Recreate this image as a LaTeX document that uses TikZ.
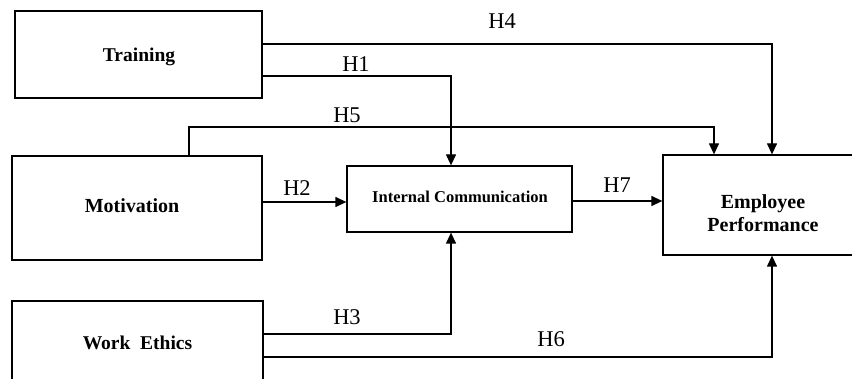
\documentclass[tikz,border=0pt]{standalone}
\usepackage{fontspec}
\setmainfont{Liberation Serif}
\usetikzlibrary{arrows.meta}
\begin{document}
\begin{tikzpicture}[x=1pt,y=-1pt,
  box/.style={draw=black,line width=1.3pt,inner sep=0pt,font=\bfseries\fontsize{19.5}{23}\selectfont,align=center},
  lbl/.style={inner sep=0pt,font=\bfseries\fontsize{20}{23}\selectfont,align=center},
  hyp/.style={inner sep=0pt,font=\fontsize{22.5}{26}\selectfont},
  arr/.style={line width=1.3pt,-{Triangle[length=11pt,width=10pt]}}]
\useasboundingbox (0,0) rectangle (852,379);
\clip (0,0) rectangle (852,379);
\node[box,minimum width=247pt,minimum height=87pt] (tr) at (138.5,54.5) {};
\node[lbl,font=\bfseries\fontsize{19.5}{23}\selectfont] (trtext) at (139,57) {Training};
\node[box,minimum width=250pt,minimum height=104pt] (mo) at (137,208) {};
\node[lbl] (motext) at (132,206) {Motivation};
\node[box,minimum width=251pt,minimum height=82pt] (we) at (137.5,342) {};
\node[lbl,font=\bfseries\fontsize{19.5}{23}\selectfont] (wetext) at (137.5,343) {Work\ \ Ethics};
\node[box,minimum width=225pt,minimum height=66pt] (ic) at (459.5,199) {};
\node[lbl,font=\bfseries\fontsize{16.5}{20}\selectfont] (ictext) at (460,197) {Internal Communication};
\node[box,minimum width=200pt,minimum height=100pt] (ep) at (763,205) {};
\node[lbl] (eptext) at (763,213) {Employee\\Performance};
% connectors
\draw[arr] (tr.east |- 0,44) -| (772,0 |- ep.north);
\draw[arr] (tr.east |- 0,76) -| (451,0 |- ic.north);
\draw[arr] (189,0 |- mo.north) -- (189,127) -| (714,0 |- ep.north);
\draw[arr] (mo.east |- 0,202) -- (ic.west |- 0,202);
\draw[arr] (ic.east |- 0,201) -- (ep.west |- 0,201);
\draw[arr] (we.east |- 0,334) -| (451,0 |- ic.south);
\draw[arr] (we.east |- 0,357) -| (772,0 |- ep.south);
% labels
\node[hyp] (h4) at (502,21) {H4};
\node[hyp] (h1) at (356,64) {H1};
\node[hyp] (h5) at (347,115) {H5};
\node[hyp] (h2) at (297,188) {H2};
\node[hyp] (h7) at (617,185) {H7};
\node[hyp] (h3) at (347,317) {H3};
\node[hyp] (h6) at (551,339) {H6};
\end{tikzpicture}
\end{document}
